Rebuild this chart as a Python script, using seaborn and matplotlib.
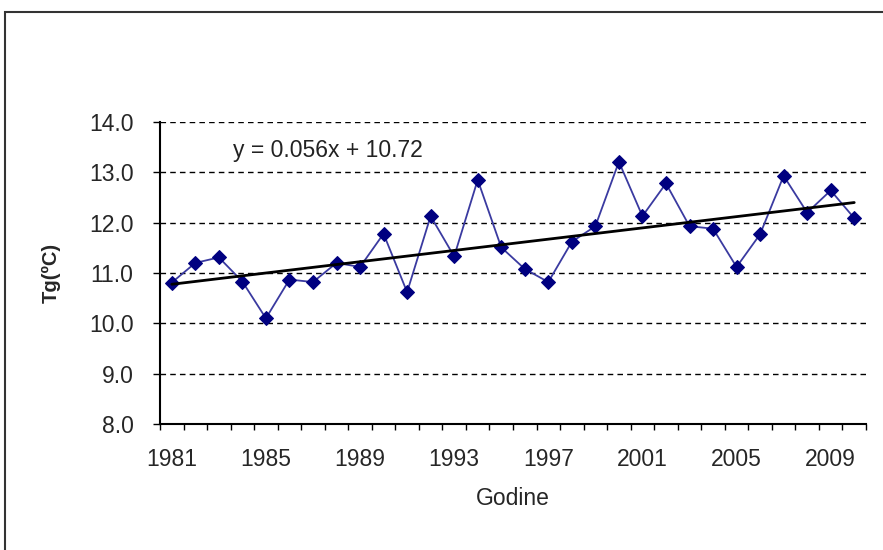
import numpy as np
import pandas as pd
import matplotlib
matplotlib.use("Agg")
import matplotlib.pyplot as plt
from matplotlib.patches import Rectangle
import seaborn as sns

years = list(range(1981, 2011))
tg = [10.81, 11.20, 11.31, 10.83, 10.10, 10.87, 10.82, 11.20, 11.12, 11.78,
      10.62, 12.13, 11.33, 12.85, 11.51, 11.08, 10.82, 11.62, 11.93, 13.21,
      12.13, 12.78, 11.93, 11.88, 11.12, 11.77, 12.93, 12.20, 12.64, 12.09]
trend_slope = 0.056
trend_intercept = 10.72
trend_label = "y = 0.056x + 10.72"
yticks = [8.0, 9.0, 10.0, 11.0, 12.0, 13.0, 14.0]

df = pd.DataFrame({"idx": np.arange(1, len(years) + 1), "year": years, "tg": tg})

sns.set_style("white")
plt.rcParams["font.family"] = ["Liberation Sans", "DejaVu Sans"]

fig = plt.figure(figsize=(8.83, 5.5), dpi=100)
ax = fig.add_axes([160 / 883, 1 - 424 / 550, 706 / 883, 302 / 550])

# outer frame (only left and top edges visible in the crop)
fig.patches.append(Rectangle((5 / 883, -0.05), 1.1, 1 - 12 / 550 + 0.05,
                             transform=fig.transFigure, fill=False,
                             edgecolor="#333333", linewidth=1.5))

for v in yticks:
    ax.axhline(v, color="black", linestyle=(0, (4, 3)), linewidth=1.0, zorder=1)

sns.lineplot(data=df, x="idx", y="tg", ax=ax, color="#3a3aa0", linewidth=1.3,
             marker="D", markersize=7.5, markerfacecolor="#000080",
             markeredgecolor="#000080", zorder=3)

tx = np.array([1, len(years)])
ax.plot(tx, trend_slope * tx + trend_intercept, color="black", linewidth=2.0, zorder=4)
ax.text(233 / 706 - 160 / 706 + 0.0, 0.905, trend_label, transform=ax.transAxes,
        fontsize=16.5, va="center", ha="left", color="#222222")

ax.set_xlim(0.5, len(years) + 0.5)
ax.set_ylim(8.0, 14.0)
ax.set_yticks(yticks)
ax.set_yticklabels([f"{v:.1f}" for v in yticks], fontsize=16.5)
lab_idx = list(range(1, len(years) + 1, 4))
ax.set_xticks(lab_idx)
ax.set_xticklabels([str(years[i - 1]) for i in lab_idx], fontsize=16.5)
ax.set_xticks(np.arange(0.5, len(years) + 1), minor=True)
ax.tick_params(axis="x", which="major", bottom=True, length=0, pad=17)
ax.tick_params(axis="x", which="minor", bottom=True, length=4, width=1,
               color="black", direction="out")
ax.tick_params(axis="y", left=True, length=5, width=1, color="black",
               direction="out", pad=14)

for s in ["top", "right"]:
    ax.spines[s].set_visible(False)
for s in ["left", "bottom"]:
    ax.spines[s].set_color("black")
    ax.spines[s].set_linewidth(1.5)

ax.set_xlabel("Godine", fontsize=16.5, labelpad=12)
ax.set_ylabel("Tg(ºC)", fontsize=14.5, fontweight="bold", labelpad=20)

fig.savefig("out.png", dpi=100)
